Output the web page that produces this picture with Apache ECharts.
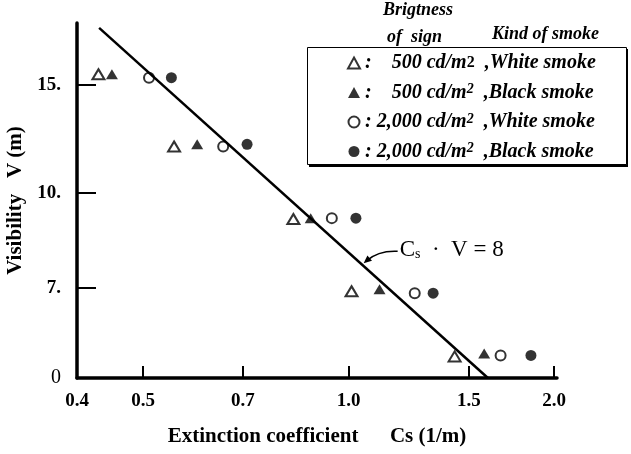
<!DOCTYPE html>
<html><head><meta charset="utf-8">
<script src="https://cdn.jsdelivr.net/npm/echarts@6/dist/echarts.min.js"></script>
<style>html,body{margin:0;padding:0;background:#fff}#c{width:631px;height:454px}</style>
</head><body><div id="c"></div>
<script>
// ---- data: [Cs (1/m), V (m)] ----
const white500 = [[0.43, 15.6], [0.555, 11.9], [0.83, 9.07], [1.01, 6.92], [1.43, 5.42]];
const black500 = [[0.45, 15.6], [0.60, 12.0], [0.88, 9.1], [1.11, 6.97], [1.58, 5.48]];
const white2000 = [[0.51, 15.4], [0.655, 11.9], [0.945, 9.1], [1.25, 6.87], [1.67, 5.44]];
const black2000 = [[0.55, 15.4], [0.71, 12.0], [1.025, 9.1], [1.33, 6.87], [1.85, 5.44]];
const lineProduct = 8;            // Cs * V = 8
const lineCs = [0.431, 1.6];      // extent of the drawn line
const xTickValues = [0.4, 0.5, 0.7, 1.0, 1.5, 2.0];
const xTickLabels = ['0.4', '0.5', '0.7', '1.0', '1.5', '2.0'];
const yTickValues = [5, 7, 10, 15];
const yTickLabels = ['0', '7.', '10.', '15.'];
const xRange = [0.4, 2.02];
const yRange = [5, 18.9];
const legendNames = ['w500', 'b500', 'w2000', 'b2000'];
const legendTexts = {
  w500: '{t|:    500 cd/m}{n|2}{t|  ,White smoke}',
  b500: '{t|:    500 cd/m}{sp|2}{t|  ,Black smoke}',
  w2000: '{t|: 2,000 cd/m}{sp|2}{t|  ,White smoke}',
  b2000: '{t|: 2,000 cd/m}{sp|2}{t|  ,Black smoke}'
};

const L = Math.log10;
const toLog = arr => arr.map(p => [L(p[0]), L(p[1])]);
const labelFor = (vals, labels, v) => {
  let best = 0, bd = Infinity;
  vals.forEach((t, i) => { const d = Math.abs(L(t) - v); if (d < bd) { bd = d; best = i; } });
  return labels[best];
};
const serif = "'Liberation Serif','Times New Roman',serif";
const rt = {fontFamily: serif, fontSize: 20, fontWeight: 'bold', fontStyle: 'italic', color: '#000', lineHeight: 20};

const chart = echarts.init(document.getElementById('c'));
const option = {
  animation: false,
  backgroundColor: '#fff',
  grid: {left: 77, right: 74, top: 23, bottom: 76, outerBoundsMode: 'none'},
  xAxis: {
    type: 'value', min: L(xRange[0]), max: L(xRange[1]),
    axisLine: {show: true, onZero: false, lineStyle: {color: '#000', width: 3.5}},
    axisTick: {show: true, inside: true, length: 12, lineStyle: {color: '#000', width: 2},
      customValues: xTickValues.slice(1).map(L)},
    axisLabel: {customValues: xTickValues.map(L), formatter: v => labelFor(xTickValues, xTickLabels, v),
      margin: 14, color: '#000', fontFamily: serif, fontSize: 19, fontWeight: 'bold'},
    splitLine: {show: false},
    name: 'Extinction coefficient      Cs (1/m)', nameLocation: 'middle', nameGap: 48,
    nameTextStyle: {color: '#000', fontFamily: serif, fontSize: 21, fontWeight: 'bold'}
  },
  yAxis: {
    type: 'value', min: L(yRange[0]), max: L(yRange[1]),
    axisLine: {show: true, onZero: false, lineStyle: {color: '#000', width: 3.5}},
    axisTick: {show: true, inside: true, length: 19, lineStyle: {color: '#000', width: 2},
      customValues: yTickValues.slice(1).map(L)},
    axisLabel: {customValues: yTickValues.map(L),
      formatter: v => { const s = labelFor(yTickValues, yTickLabels, v); return s === '0' ? '{n|0}' : s; },
      margin: 16, color: '#000', fontFamily: serif, fontSize: 19, fontWeight: 'bold',
      rich: {n: {fontFamily: serif, fontSize: 20, fontWeight: 'normal', color: '#000'}}},
    splitLine: {show: false},
    name: 'Visibility   V (m)', nameLocation: 'middle', nameGap: 50,
    nameTextStyle: {color: '#000', fontFamily: serif, fontSize: 21, fontWeight: 'bold'}
  },
  legend: {
    data: legendNames, orient: 'vertical', left: 347, top: 53, itemGap: 9.5,
    itemWidth: 12, itemHeight: 11, padding: 0, selectedMode: false,
    formatter: name => legendTexts[name],
    textStyle: Object.assign({}, rt, {
      rich: {
        t: rt,
        n: Object.assign({}, rt, {fontSize: 16, fontStyle: 'normal'}),
        sp: Object.assign({}, rt, {fontSize: 14, lineHeight: 12, verticalAlign: 'top'})
      }
    })
  },
  graphic: [
    {id: 'boxShadow', type: 'rect', z: 0, shape: {x: 309, y: 49, width: 319, height: 118},
      style: {fill: '#000'}},
    {id: 'box', type: 'rect', z: 1, shape: {x: 307.5, y: 47.5, width: 319, height: 117},
      style: {fill: '#fff', stroke: '#000', lineWidth: 1}},
    {id: 'h1', type: 'text', x: 383, y: 10, style: {text: 'Brigtness', font: 'italic bold 18px ' + serif, fill: '#000', verticalAlign: 'middle'}},
    {id: 'h2', type: 'text', x: 387, y: 37, style: {text: 'of  sign', font: 'italic bold 18px ' + serif, fill: '#000', verticalAlign: 'middle'}},
    {id: 'h3', type: 'text', x: 492, y: 34, style: {text: 'Kind of smoke', font: 'italic bold 18px ' + serif, fill: '#000', verticalAlign: 'middle'}}
  ],
  series: [
    {name: 'w500', type: 'scatter', symbol: 'emptyTriangle', symbolSize: [12, 10],
      itemStyle: {color: '#000', borderColor: '#000', borderWidth: 2.2}, data: toLog(white500)},
    {name: 'b500', type: 'scatter', symbol: 'triangle', symbolSize: [12, 10],
      itemStyle: {color: '#000'}, data: toLog(black500)},
    {name: 'w2000', type: 'scatter', symbol: 'emptyCircle', symbolSize: 10,
      itemStyle: {color: '#000', borderColor: '#000', borderWidth: 2}, data: toLog(white2000)},
    {name: 'b2000', type: 'scatter', symbol: 'circle', symbolSize: 11,
      itemStyle: {color: '#000'}, data: toLog(black2000)},
    {name: 'line', type: 'line', symbol: 'none', silent: true,
      lineStyle: {color: '#000', width: 2.5}, data: lineCs.map(c => [L(c), L(lineProduct / c)])}
  ]
};
chart.setOption(option);

// annotation pointing at the Cs*V=8 line
const aCs = 1.045;
const p = chart.convertToPixel({gridIndex: 0}, [L(aCs), L(lineProduct / aCs)]);
const ax = p[0], ay = p[1];
const tipX = ax + 2, tipY = ay - 1, cX = ax + 17, cY = ay - 14;
const dx = tipX - cX, dy = tipY - cY, dl = Math.hypot(dx, dy), ux = dx / dl, uy = dy / dl;
const hl = 8, hw = 3.5;
chart.setOption({graphic: [
  {id: 'arrowLine', type: 'bezierCurve', shape: {x1: ax + 36, y1: ay - 13, x2: tipX - ux * 4, y2: tipY - uy * 4, cpx1: cX, cpy1: cY},
    style: {stroke: '#000', lineWidth: 1.5, fill: null}},
  {id: 'arrowHead', type: 'polygon', shape: {points: [[tipX, tipY],
      [tipX - ux * hl - uy * hw, tipY - uy * hl + ux * hw], [tipX - ux * hl + uy * hw, tipY - uy * hl - ux * hw]]},
    style: {fill: '#000'}},
  {id: 'annot', type: 'text', x: ax + 38, y: ay - 14, style: {
    text: 'C{s|s}  ·  V = 8', font: '23px ' + serif, fill: '#000', verticalAlign: 'middle',
    rich: {s: {fontFamily: serif, fontSize: 14, fill: '#000', verticalAlign: 'bottom', lineHeight: 14}}}}
]});
</script></body></html>
